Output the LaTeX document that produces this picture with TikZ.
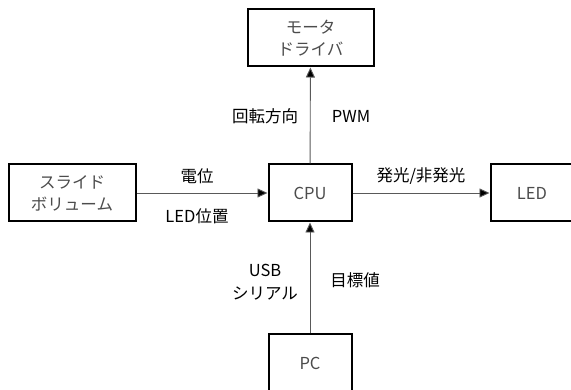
\documentclass[tikz,border=0pt]{standalone}
\usepackage{fontspec}
\newfontfamily\jp{Noto Sans CJK JP}
\usepackage{tikz}
\usetikzlibrary{arrows.meta}

\begin{document}
\begin{tikzpicture}[x=1pt,y=-1pt,
	blk/.style={draw=black,line width=2pt,inner sep=0pt,minimum height=57pt,align=center,
		text=black!70,font=\jp\fontsize{16.5}{22}\selectfont},
	lbl/.style={font=\jp\fontsize{16.5}{23}\selectfont,align=center},
	sig/.style={draw=black!65,line width=0.9pt,-{Triangle[length=10pt,width=9pt,fill=black]}}]
		\useasboundingbox (0,0) rectangle (571,390);
		\node[blk,minimum width=126pt] (motor) at (310.5,38) {モータ\\ドライバ}; %モータ
		\node[blk,minimum width=127pt] (slide) at (72,193) {スライド\\ボリューム}; %ボリューム
		\node[blk,minimum width=83pt] (cpu) at (310,193) {CPU}; %CPU
		\node[blk,minimum width=83pt] (led) at (532,193) {LED}; %LED
		\node[blk,minimum width=83pt] (pc) at (310,363) {PC}; %PC
		\draw[sig] (slide) -- (cpu);
		\draw[sig] (cpu) -- (motor);
		\draw[sig] (cpu) -- (led);
		\draw[sig] (pc) -- (cpu);
		\node[lbl] (l1) at (197,176) {電位};
		\node[lbl] (l2) at (197,216) {LED位置};
		\node[lbl] (l3) at (265,116) {回転方向};
		\node[lbl] (l4) at (351,116) {PWM};
		\node[lbl] (l5) at (421,176) {発光/非発光};
		\node[lbl] (l6) at (265,282) {USB\\シリアル};
		\node[lbl] (l7) at (355,280) {目標値};
	\end{tikzpicture}
\end{document}
